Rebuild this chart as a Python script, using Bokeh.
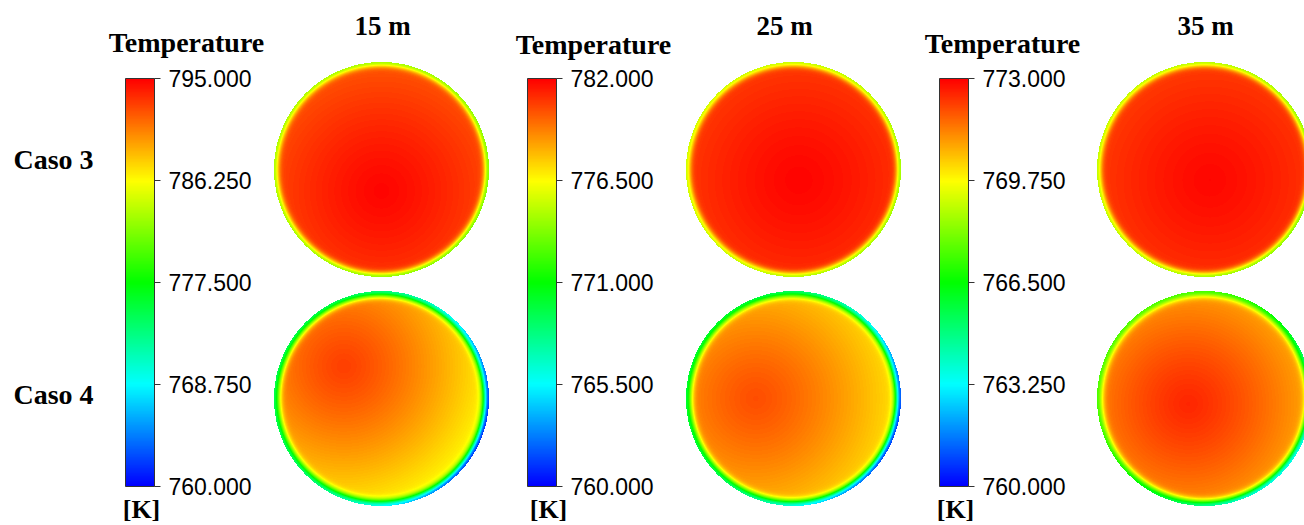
import numpy as np
from bokeh.plotting import figure
from bokeh.models import Range1d, LinearColorMapper, ColorBar, FixedTicker, PrintfTickFormatter
from bokeh.core.properties import value
from bokeh.embed import file_html
from bokeh.resources import INLINE

W, H = 1304, 525

# ---------------- data ----------------
depths = ["15 m", "25 m", "35 m"]
cases = ["Caso 3", "Caso 4"]
t_low = [760.0, 760.0, 760.0]
t_high = [795.0, 782.0, 773.0]
bar_ticks = [
    [760.0, 768.75, 777.5, 786.25, 795.0],
    [760.0, 765.5, 771.0, 776.5, 782.0],
    [760.0, 763.25, 766.5, 769.75, 773.0],
]
# Caso 3 temperatures (K) per depth
caso3_hot = [794.8, 781.9, 772.9]          # hottest interior point
caso3_far = [792.0, 780.7, 772.2]          # interior just inside rim, far side
caso3_wall_warm = [783.5, 775.5, 769.0]    # wall temperature, warm side
caso3_wall_cold = [782.0, 774.5, 768.3]    # wall temperature, cold side
caso3_hot_pos = [(0.0, 0.2), (0.05, 0.1), (0.05, 0.1)]   # (x, y-down) of hot spot
# Caso 4 temperatures (K) per depth
caso4_hot = [792.8, 780.3, 772.5]
caso4_far = [786.0, 777.0, 770.8]
caso4_wall_warm = [775.0, 770.0, 767.5]
caso4_wall_cold = [762.0, 761.5, 763.5]
caso4_hot_pos = [(-0.35, -0.3), (-0.35, 0.0), (-0.15, 0.05)]
caso4_cold_deg = [-20, -20, -40]

# ---------------- layout (screen pixels) ----------------
disc_cx = [381, 793, 1204]
disc_cy = [169, 398]
disc_r = 107.5
bar_left = [125, 527, 939]
bar_top, bar_bottom = 78, 486
title_x = [186, 593, 1002]
title_base = [42, 44, 43]
unit_x = [141, 548, 955]
depth_x = [382, 784, 1205]

# jet-like palette (blue, cyan, green, yellow, red)
anchors = np.array([[0, 0, 255], [0, 255, 255], [0, 255, 0], [255, 255, 0], [255, 0, 0]], float)
pal = []
for t in np.linspace(0, 1, 256):
    f = t * 4
    i = min(int(f), 3)
    w = f - i
    c = anchors[i] * (1 - w) + anchors[i + 1] * w
    pal.append("#%02x%02x%02x" % tuple(int(round(x)) for x in c))

p = figure(width=W, height=H, x_range=Range1d(0, W), y_range=Range1d(0, H),
           output_backend="svg", toolbar_location=None, min_border=0)
p.axis.visible = False
p.grid.visible = False
p.outline_line_color = None
p.background_fill_color = "white"
p.border_fill_color = "white"


def field(hot, far, warm, cold, hpos, delta, cold_ang, n):
    ax = (np.arange(n) + 0.5) / n * 2 - 1
    u, v = np.meshgrid(ax, ax)  # v upward
    hx, hy = hpos[0], -hpos[1]
    r = np.sqrt(u ** 2 + v ** 2)
    d = np.sqrt((u - hx) ** 2 + (v - hy) ** 2)
    dmax = 1 + np.hypot(hx, hy)
    tin = hot - (hot - far) * np.clip(d / dmax, 0, 1) ** 1.3
    th = np.arctan2(v, u)
    wall = warm + (cold - warm) * (0.5 + 0.5 * np.cos(th - cold_ang)) ** 2
    s = np.clip((1 - r) / delta, 0, None)
    T = wall + (tin - wall) * (1 - np.exp(-s ** 2))
    T[r > 1] = np.nan
    return T


n = int(2 * disc_r)
for j in range(3):
    mapper = LinearColorMapper(palette=pal, low=t_low[j], high=t_high[j], nan_color=(0, 0, 0, 0))
    specs = [
        (caso3_hot[j], caso3_far[j], caso3_wall_warm[j], caso3_wall_cold[j], caso3_hot_pos[j], 0.047, -20),
        (caso4_hot[j], caso4_far[j], caso4_wall_warm[j], caso4_wall_cold[j], caso4_hot_pos[j], 0.056,
         caso4_cold_deg[j]),
    ]
    for i, (hot, far, warm, cold, hpos, dl, cdeg) in enumerate(specs):
        T = field(hot, far, warm, cold, hpos, dl, np.deg2rad(cdeg), n)
        p.image(image=[T], x=disc_cx[j] - disc_r, y=H - (disc_cy[i] + disc_r),
                dw=2 * disc_r, dh=2 * disc_r, color_mapper=mapper)

    cb = ColorBar(color_mapper=mapper, location=(bar_left[j], H - bar_bottom),
                  width=29, height=bar_bottom - bar_top, padding=0,
                  ticker=FixedTicker(ticks=bar_ticks[j]),
                  formatter=PrintfTickFormatter(format="%.3f"),
                  major_label_text_font_size="23px",
                  major_label_text_font="Liberation Sans",
                  major_label_text_color="black",
                  major_tick_out=6, major_tick_in=0,
                  major_tick_line_color="#333333",
                  minor_tick_line_color=None,
                  bar_line_color="#333333", bar_line_width=1,
                  label_standoff=8,
                  background_fill_alpha=0, border_line_color=None)
    p.add_layout(cb, "center")

    p.text(x=[title_x[j]], y=[H - title_base[j]], text=["Temperature"],
           text_font=value("Liberation Serif"), text_font_style="bold",
           text_font_size=value("28px"), text_align="center", text_baseline="alphabetic",
           text_color="black")
    p.text(x=[unit_x[j]], y=[H - 509], text=["[K]"],
           text_font=value("Liberation Serif"), text_font_style="bold",
           text_font_size=value("26px"), text_align="center", text_baseline="alphabetic",
           text_color="black")
    p.text(x=[depth_x[j]], y=[H - 25], text=[depths[j]],
           text_font=value("Liberation Serif"), text_font_style="bold",
           text_font_size=value("27px"), text_align="center", text_baseline="alphabetic",
           text_color="black")

case_base = [159, 394]
for i in range(2):
    p.text(x=[13], y=[H - case_base[i]], text=[cases[i]],
           text_font=value("Liberation Serif"), text_font_style="bold",
           text_font_size=value("28px"), text_align="left", text_baseline="alphabetic",
           text_color="black")

open("out.html", "w").write(file_html(p, INLINE))
